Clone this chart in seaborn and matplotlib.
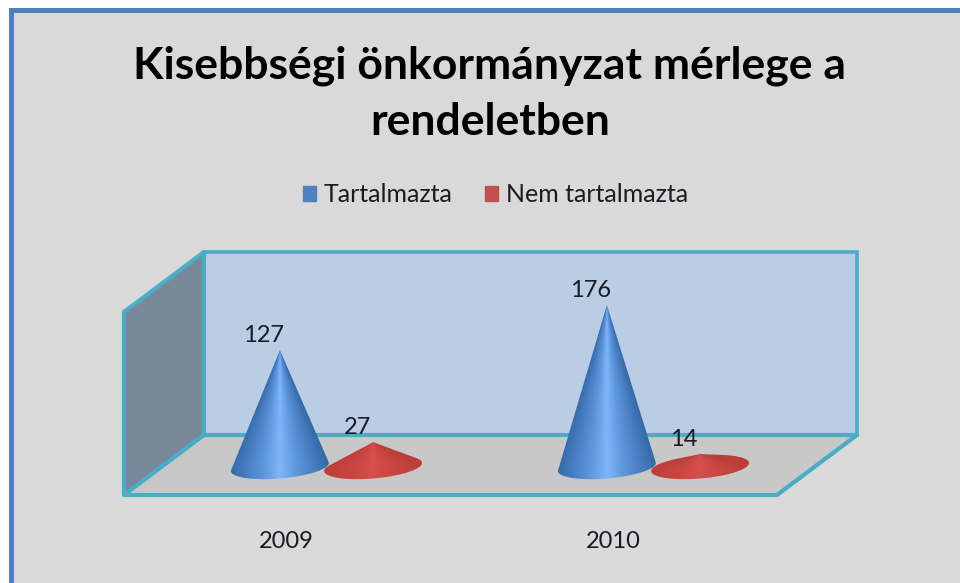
import numpy as np
import pandas as pd
import matplotlib
matplotlib.use('Agg')
import matplotlib.pyplot as plt
from matplotlib.colors import LinearSegmentedColormap
from matplotlib.patches import Patch, Polygon, Rectangle
from matplotlib.transforms import ScaledTranslation
import seaborn as sns

# values
years = ['2009', '2010']
tartalmazta = [127, 176]
nem_tartalmazta = [27, 14]
series_names = ['Tartalmazta', 'Nem tartalmazta']
title = 'Kisebbségi önkormányzat mérlege a\nrendeletben'

sns.set_theme(style='white')
plt.rcParams['font.family'] = ['Lato', 'DejaVu Sans']

W, H = 960, 583
fig = plt.figure(figsize=(W / 100, H / 100), dpi=100, facecolor='white')

# slide background and the 3d box, in pixels
bg = fig.add_axes([0, 0, 1, 1], zorder=0)
bg.set_xlim(0, W)
bg.set_ylim(H, 0)
bg.axis('off')
bg.add_patch(Rectangle((10.5, 10), 980, 600, fc='#D9D9D9', ec='#4F81BD', lw=3.6))
teal = '#4BACC6'
bg.add_patch(Polygon([(204, 252), (857, 252), (857, 435), (204, 435)], fc='#B9CDE5', ec=teal, lw=2.6))
bg.add_patch(Polygon([(124, 312), (204, 252), (204, 435), (124, 495)], fc='#78889A', ec=teal, lw=3, joinstyle='round'))
bg.add_patch(Polygon([(124, 495), (204, 435), (857, 435), (777, 495)], fc='#C8C8C8', ec=teal, lw=3, joinstyle='round'))

# chart axes: 327 px per category, 0.92 px per unit, zero at y=467 px
px_unit = 0.92
top, bottom = 252, 495
ax = fig.add_axes([163 / W, 1 - bottom / H, 654 / W, (bottom - top) / H], zorder=1)
ax.patch.set_alpha(0)

df = pd.DataFrame({
    'year': years * 2,
    'value': tartalmazta + nem_tartalmazta,
    'series': [series_names[0]] * 2 + [series_names[1]] * 2,
})
sns.barplot(data=df, x='year', y='value', hue='series', width=0.57, legend=False, ax=ax)
ax.set_xlim(-0.5, 1.5)
ylim = (-(bottom - 467) / px_unit, (467 - top) / px_unit)
ax.set_ylim(*ylim)
ax.set(xlabel='', ylabel='', yticks=[])
sns.despine(ax=ax, left=True, bottom=True)

cmaps = [
    LinearSegmentedColormap.from_list('b', ['#80B6F8', '#5E97DE', '#4A80C4', '#366AA8']),
    LinearSegmentedColormap.from_list('r', ['#D4504A', '#CB4843', '#C4433E', '#BC3E3A']),
]


def hull(pts):
    # monotone chain
    pts = sorted(map(tuple, pts))
    def half(seq):
        out = []
        for p in seq:
            while len(out) > 1:
                a, b = out[-2], out[-1]
                if (b[0] - a[0]) * (p[1] - a[1]) - (b[1] - a[1]) * (p[0] - a[0]) > 0:
                    break
                out.pop()
            out.append(p)
        return out[:-1]
    return np.array(half(pts) + half(pts[::-1]))


ry = 11.5 / px_unit
tilt = 4 / px_unit
for cont, cmap in zip(ax.containers, cmaps):
    for bar in cont:
        bar.set_visible(False)
        cx = bar.get_x() + bar.get_width() / 2
        r = bar.get_width() / 2 * 1.05
        h = bar.get_height()
        t = np.linspace(0, 2 * np.pi, 200)
        ell = np.column_stack([cx + r * np.cos(t), ry * np.sin(t) + tilt * np.cos(t)])
        shape = hull(np.vstack([ell, [[cx, h]]]))

        xs = np.linspace(cx - r, cx + r, 300)
        ys = np.linspace(-ry - tilt, max(h, ry + tilt) + 1, 400)
        xx, yy = np.meshgrid(xs, ys)
        local = r * np.clip((h - yy) / h, 0.004, 1)
        shade = np.clip(np.abs(xx - cx) / local, 0, 1)
        im = ax.imshow(shade, extent=(xs[0], xs[-1], ys[0], ys[-1]), origin='lower',
                       cmap=cmap, vmin=0, vmax=1, aspect='auto', zorder=3, interpolation='bilinear')
        clip = Polygon(shape, transform=ax.transData, fc='none', ec='none')
        ax.add_patch(clip)
        im.set_clip_path(clip)

        ax.annotate(str(int(h)), (cx, h), xytext=(-11.5, 10.3), textcoords='offset points',
                    ha='center', va='center', fontsize=17, color='#1A1A22', zorder=4)

ax.set_xlim(-0.5, 1.5)
ax.set_ylim(*ylim)

# year labels sit left of the bars because of the 3d look
ax.tick_params(axis='x', length=0, pad=26, labelsize=17, labelcolor='#1A1A22')
shift = ScaledTranslation(-40 / 100, 0, fig.dpi_scale_trans)
for lab in ax.get_xticklabels():
    lab.set_transform(lab.get_transform() + shift)

handles = [Patch(color='#4F81BD', label=series_names[0]), Patch(color='#C0504D', label=series_names[1])]
fig.legend(handles=handles, loc='center', bbox_to_anchor=(495.5 / W, 1 - 195 / H), ncol=2, frameon=False,
           fontsize=18, handlelength=0.52, handleheight=0.52, handletextpad=0.32, columnspacing=1.3,
           labelcolor='#1A1A22')

fig.text(490 / W, 1 - 94 / H, title, ha='center', va='center', fontsize=32, fontweight='bold',
         color='black', linespacing=1.48)

fig.savefig('out.png', dpi=100)
